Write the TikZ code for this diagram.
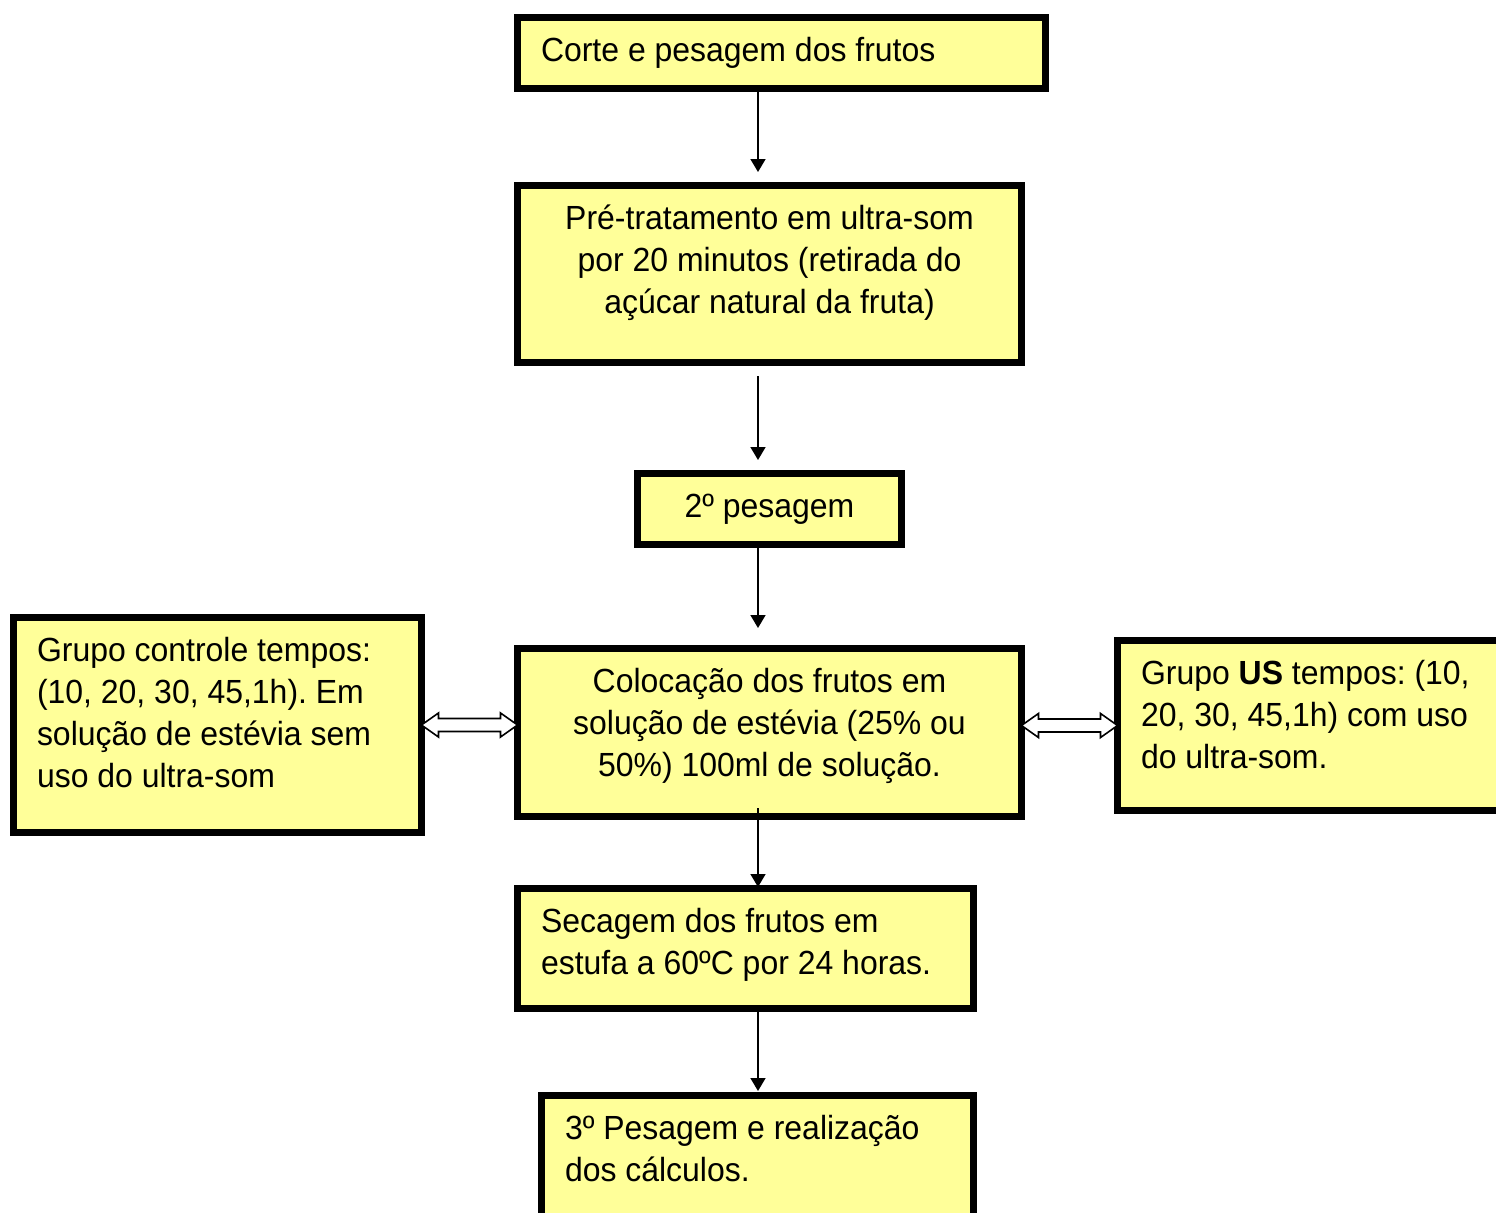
\documentclass[tikz,border=0pt]{standalone}
\usepackage{fontspec}
\setmainfont[FakeStretch=0.955]{Liberation Sans}
\usetikzlibrary{arrows.meta,calc}
\definecolor{boxyellow}{HTML}{FFFF99}
\newdimen\pxu \pxu=0.75pt
\newcommand\bt[4]{\parbox[c][#2\pxu][t]{#1\pxu}{\vspace*{10.6pt}#3\strut #4}}
\frenchspacing
\begin{document}
\begin{tikzpicture}[x=0.75pt,y=-0.75pt,
 flowbox/.style={draw=black,line width=5.25pt,fill=boxyellow,inner xsep=17.6pt,inner ysep=0pt,outer sep=0pt,font=\fontsize{25.1pt}{31.5pt}\selectfont},
 arr/.style={line width=1.2pt,-{Triangle[length=9.75pt,width=11.25pt]}},
 dbl/.style={draw=black,line width=1.2pt,fill=white,line join=miter}]
\useasboundingbox (0,0) rectangle (1496,1213);
\clip (0,0) rectangle (1496,1213);
\fill[white] (0,0) rectangle (1496,1213);
\coordinate (ax) at (758,0);

\node[flowbox] (top) at (781.5,53) {\bt{481}{71}{\raggedright}{Corte e pesagem dos frutos}};
\node[flowbox] (pre) at (769.5,274) {\bt{457}{177}{\centering}{Pré-tratamento em ultra-som\\ por 20 minutos (retirada do\\ açúcar natural da fruta)}};
\node[flowbox] (pes2) at (769.5,509) {\bt{217}{71}{\centering}{2º pesagem}};
\node[flowbox] (col) at (769.5,732.5) {\bt{457}{168}{\centering}{Colocação dos frutos em\\ solução de estévia (25\% ou\\ 50\%) 100ml de solução.}};
\node[flowbox] (ctrl) at (217.5,725) {\bt{361}{215}{\raggedright}{Grupo controle tempos:\\ (10, 20, 30, 45,1h). Em\\ solução de estévia sem\\ uso do ultra-som}};
\node[flowbox] (us) at (1322,725.5) {\bt{362}{170}{\raggedright}{Grupo \textbf{US} tempos: (10,\\ 20, 30, 45,1h) com uso\\ do ultra-som.}};
\node[flowbox] (sec) at (745.5,948.5) {\bt{409}{120}{\raggedright}{Secagem dos frutos em\\ estufa a 60ºC por 24 horas.}};
\node[flowbox] (pes3) at (757.5,1162) {\bt{385}{133}{\raggedright}{3º Pesagem e realização\\ dos cálculos.}};

\draw[arr] (top.south -| ax) -- ($(pre.north -| ax)+(0,-13.5)$);
\draw[arr] ($(pre.south -| ax)+(0,13.5)$) -- ($(pes2.north -| ax)+(0,-13.5)$);
\draw[arr] (pes2.south -| ax) -- ($(col.north -| ax)+(0,-20.5)$);
\draw[arr] ($(col.south -| ax)+(0,-8.5)$) -- ($(sec.north -| ax)+(0,-1.5)$);
\draw[arr] (sec.south -| ax) -- ($(pes3.north -| ax)+(0,-4.5)$);

\coordinate (dl1) at (ctrl.east);
\coordinate (dl2) at (ctrl.east -| col.west);
\coordinate (dr1) at (col.east |- us.west);
\coordinate (dr2) at (us.west);
\newcommand\dblarrow[2]{\draw[dbl] (#1) -- ($(#1)+(17,-12)$) -- ($(#1)+(17,-6.5)$) -- ($(#2)+(-17,-6.5)$) -- ($(#2)+(-17,-12)$) -- (#2) -- ($(#2)+(-17,12)$) -- ($(#2)+(-17,6.5)$) -- ($(#1)+(17,6.5)$) -- ($(#1)+(17,12)$) -- cycle;}
\dblarrow{dl1}{dl2}
\dblarrow{dr1}{dr2}
\end{tikzpicture}
\end{document}
